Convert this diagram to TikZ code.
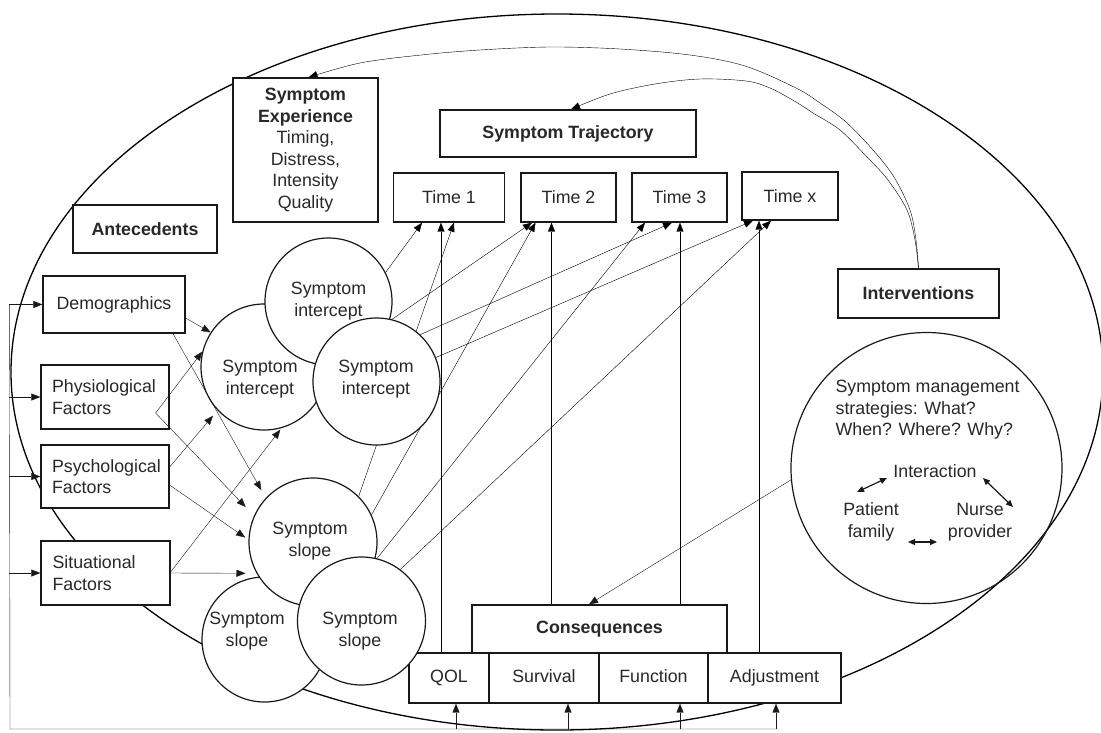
\documentclass[tikz,border=0pt]{standalone}
\usepackage{fontspec}
\setmainfont{Liberation Sans}
\usetikzlibrary{arrows.meta}
\pgfdeclarelayer{back}
\pgfsetlayers{back,main}
\definecolor{ink}{RGB}{25,25,25}
\definecolor{txt}{RGB}{40,40,40}
\newcommand\diafont{\fontsize{17.8}{21.5}\selectfont}
\begin{document}
\begin{tikzpicture}[x=1pt, y=-1pt, line width=1.2pt, color=ink,
  box/.style={draw=ink, fill=white, line width=1.3pt, inner sep=0pt, align=center, font=\diafont, text=txt},
  bbox/.style={box, font=\diafont\bfseries},
  lbox/.style={box, text width=106pt, align=left},
  rowbox/.style={box, minimum height=50pt, text height=13pt, text depth=4pt},
  disc/.style={circle, draw=ink, fill=white, line width=1.2pt, inner sep=0pt},
  lbl/.style={inner sep=0pt, align=center, font=\diafont, text=txt},
  arr/.style={-{Triangle[length=9pt,width=7pt]}},
  dbl/.style={{Triangle[length=7pt,width=6pt]}-{Triangle[length=7pt,width=6pt]}},
]
\useasboundingbox (0,0) rectangle (1101,732);

% ---- boxes ----
\node[box, minimum width=145pt, minimum height=144pt] (se) at (305.5,150)
  {\textbf{Symptom}\\\textbf{Experience}\\Timing,\\Distress,\\Intensity\\Quality};
\node[bbox, minimum width=144pt, minimum height=48pt] (ant) at (145,229) {Antecedents};
\node[bbox, minimum width=256pt, minimum height=47pt] (st) at (568,133.5) {Symptom Trajectory};
\node[box, minimum width=111pt, minimum height=49pt] (t1) at (449,197.5) {Time 1};
\node[box, minimum width=95pt, minimum height=49pt] (t2) at (568.5,197.5) {Time 2};
\node[box, minimum width=95pt, minimum height=49pt] (t3) at (679.5,197.5) {Time 3};
\node[box, minimum width=96pt, minimum height=48pt] (tx) at (790,196) {Time x};
\node[box, minimum width=142pt, minimum height=57pt] (demo) at (114,304.5) {Demographics};
\node[lbox, minimum width=128pt, minimum height=64pt] (phys) at (105,397) {Physiological\\Factors};
\node[lbox, minimum width=128pt, minimum height=63pt] (psyc) at (105,476.5) {Psychological\\Factors};
\node[lbox, minimum width=129pt, minimum height=64pt] (situ) at (105.5,573) {Situational\\Factors};
\node[bbox, minimum width=161pt, minimum height=49pt] (iv) at (918.5,293.5) {Interventions};
\node[bbox, minimum width=255pt, minimum height=48pt] (cons) at (599.5,629) {Consequences};
\node[rowbox, minimum width=80pt] (qol) at (449,678) {QOL};
\node[rowbox, minimum width=110pt] (surv) at (544,678) {Survival};
\node[rowbox, minimum width=109pt] (func) at (653.5,678) {Function};
\node[rowbox, minimum width=133pt] (adj) at (774.5,678) {Adjustment};

% ---- intercept and slope circles ----
\node[disc, minimum size=126pt] (B) at (264,367) {};
\node[disc, minimum size=127pt] (A) at (328.5,301.5) {};
\node[disc, minimum size=127pt] (C) at (376.5,381.5) {};
\node[disc, minimum size=125pt] (E) at (264.5,639.5) {};
\node[disc, minimum size=128pt] (D) at (313,542) {};
\node[disc, minimum size=128pt] (F) at (361.5,621) {};
\node[lbl] (Bt) at (260,379) {Symptom\\intercept};
\node[lbl] (At) at (328.5,301) {Symptom\\intercept};
\node[lbl] (Ct) at (376,379) {Symptom\\intercept};
\node[lbl] (Et) at (247,631) {Symptom\\slope};
\node[lbl] (Dt) at (310,541) {Symptom\\slope};
\node[lbl] (Ft) at (360,631) {Symptom\\slope};

% ---- symptom management ----
\node[circle, draw=ink, line width=1.2pt, minimum size=271pt, inner sep=0pt] (M) at (926.5,468) {};
\node[lbl, align=left, anchor=west] (mtext) at (835,410) {Symptom management\\strategies: What?\\When? Where? Why?};
\node[lbl] (inter) at (935,471) {Interaction};
\node[lbl] (pf) at (871,522) {Patient\\family};
\node[lbl] (np) at (980,522) {Nurse\\provider};
\draw[dbl] ([shift={(-14,-30)}]pf.center) -- ([shift={(-48,7)}]inter.center);
\draw[dbl] ([shift={(48,7)}]inter.center) -- ([shift={(33,-15)}]np.center);
\draw[dbl] ([shift={(37,20)}]pf.center) -- ([shift={(-43,20)}]np.center);

% ---- connectors lying under the shapes ----
\begin{pgfonlayer}{back}
  \draw[line width=1.3pt] (557,372) ellipse [x radius=546pt, y radius=358pt];
  % feedback from interventions
  \draw[arr] plot[smooth, tension=0.55] coordinates {(iv.north) (916,240) (910,210) (894,177) (873,150)
     (846,122) (820,103) (796,88) (745,66) (690,55) (620,49) (550,47) (480,50) (421,55) (360,63)
     ([xshift=3pt]se.north)};
  \draw[arr] plot[smooth, tension=0.55] coordinates {(iv.north) (915,240) (907,210) (888,180) (867,157)
     (840,130) (813,113) (796,102) (770,88) (746,81) (700,79) (655,84) (610,94)
     ([xshift=3pt]st.north)};
  % intercepts and slopes to the time points
  \draw[arr] (A.27) -- ([xshift=-27pt]t1.south);
  \draw[arr] (D.45) -- ([xshift=5pt]t1.south);
  \draw[arr] (C.76) -- ([xshift=-36.5pt]t2.south);
  \draw[arr] (D.25) -- ([xshift=-33pt]t2.south);
  \draw[arr] (C.47) -- ([xshift=-7.5pt]t3.south);
  \draw[arr] (F.76) -- ([xshift=-34.5pt]t3.south);
  \draw[arr] (C.22) -- ([xshift=-37pt]tx.south);
  \draw[arr] (F.53) -- ([xshift=-19pt]tx.south);
  % consequences to the time points
  \coordinate (v1) at ([xshift=-8pt]qol.north);
  \coordinate (v2) at ([xshift=-48pt]cons.north);
  \coordinate (v3) at ([xshift=80.5pt]cons.north);
  \coordinate (v4) at ([xshift=-15.5pt]adj.north);
  \draw[arr] (v1) -- (v1 |- t1.south);
  \draw[arr] (v2) -- (v2 |- t2.south);
  \draw[arr] (v3) -- (v3 |- t3.south);
  \draw[arr] (v4) -- (v4 |- tx.south);
\end{pgfonlayer}

% ---- antecedents to intercepts and slopes ----
\draw[arr] ([yshift=-13.5pt]demo.east) -- (B.147);
\draw[arr, shorten >=9pt] ([xshift=59pt]demo.south) -- (D.137);
\draw[arr] ([xshift=-14pt,yshift=-16pt]phys.east) -- (B.166);
\draw[arr, shorten >=12pt] ([xshift=-14pt,yshift=-16pt]phys.east) -- (D.156);
\draw[arr, shorten >=7pt] ([yshift=9.5pt]psyc.east) -- (B.223);
\draw[arr, shorten >=4pt] ([yshift=-8.5pt]psyc.east) -- (D.178);
\draw[arr, shorten >=2pt] ([yshift=1pt]situ.east) -- (B.286);
\draw[arr, shorten >=11pt] (situ.east) -- (D.209);

% ---- interventions to consequences ----
\draw[arr] (M.185) -- ([xshift=-10.5pt]cons.north);

% ---- outer feedback loop ----
\coordinate (fbt) at ([xshift=-33pt]demo.west);
\coordinate (fbb) at (10,729);
\coordinate (a1) at ([xshift=7pt]qol.south);
\coordinate (a2) at ([xshift=24pt]surv.south);
\coordinate (a3) at ([xshift=26.5pt]func.south);
\coordinate (a4) at ([xshift=1.5pt]adj.south);
\draw (fbt) -- (fbb) -- (fbb -| a4);
\draw[arr] (fbt) -- (demo.west);
\draw[arr] (fbt |- phys.west) -- (phys.west);
\draw[arr] (fbt |- psyc.west) -- (psyc.west);
\draw[arr] (fbt |- situ.west) -- (situ.west);
\draw[arr] (fbb -| a1) -- (a1);
\draw[arr] (fbb -| a2) -- (a2);
\draw[arr] (fbb -| a3) -- (a3);
\draw[arr] (fbb -| a4) -- (a4);
\end{tikzpicture}
\end{document}
